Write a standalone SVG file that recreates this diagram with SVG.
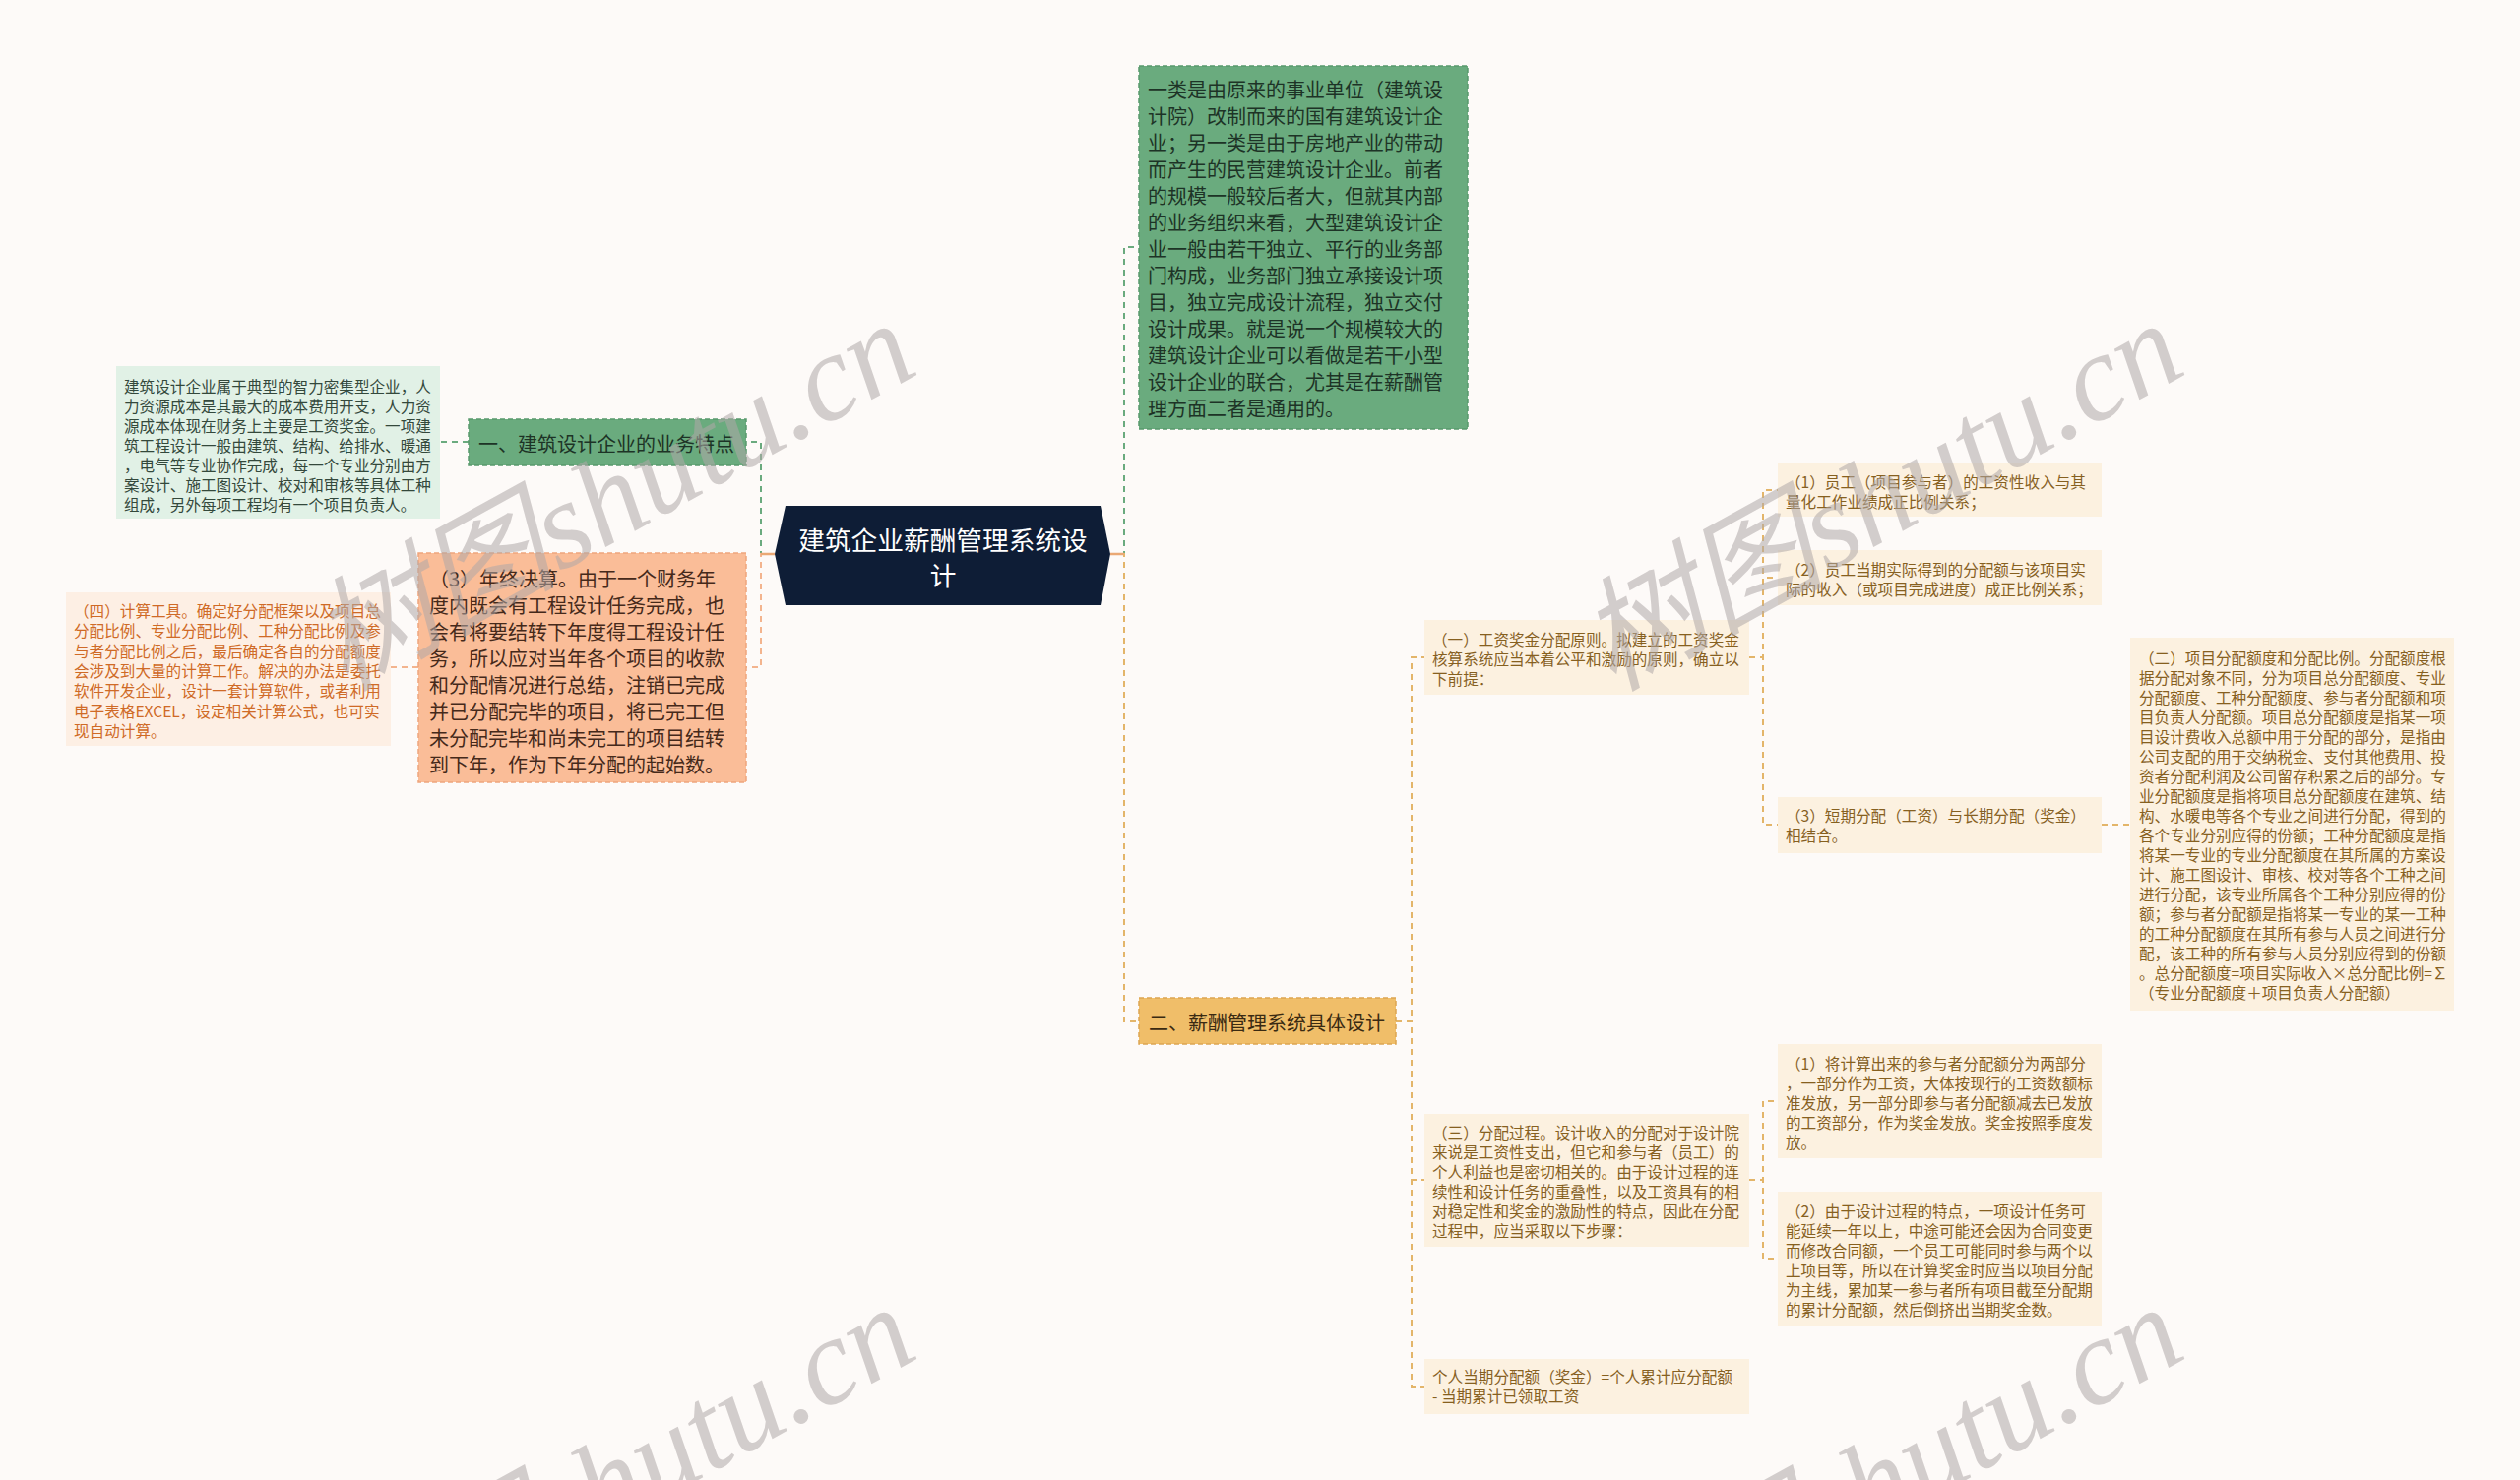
<svg xmlns="http://www.w3.org/2000/svg" width="2560" height="1504" viewBox="0 0 2560 1504">
<style>
text{font-family:"Noto Sans CJK SC","Noto Sans",sans-serif;dominant-baseline:central}
.s{font-size:15.6px}
.m{font-size:20px}
.lt{fill:#fcf1e0}
.tb{fill:#86601f}
.wm{font-family:"Liberation Serif","Noto Sans CJK SC",serif;font-style:italic;font-size:125px;fill:#aea8a8;fill-opacity:0.55;dominant-baseline:alphabetic}
.cg{fill:none;stroke:#6aaa7e;stroke-width:2;stroke-dasharray:6 5}
.cp{fill:none;stroke:#f3b48e;stroke-width:2;stroke-dasharray:6 5}
.co{fill:none;stroke:#e3b56a;stroke-width:2;stroke-dasharray:6 5}
</style>
<rect width="2560" height="1504" fill="#fdfaf8"/>
<g id="connectors">
<path class="cg" d="M787 563H773V449H758"/>
<path class="cg" d="M476 449H447"/>
<path class="cp" d="M787 563H773V678H758"/>
<path class="cp" d="M425 678H397"/>
<path class="cg" d="M1128 563H1142V251H1157"/>
<path class="co" d="M1128 563H1142V1038H1157"/>
<path class="co" d="M1418 1038H1434V668H1447"/>
<path class="co" d="M1418 1038H1434V1199H1447"/>
<path class="co" d="M1418 1038H1434V1409H1447"/>
<path class="co" d="M1777 668H1791V498H1806"/>
<path class="co" d="M1777 668H1791V587H1806"/>
<path class="co" d="M1777 668H1791V838H1806"/>
<path class="co" d="M2135 838H2164"/>
<path class="co" d="M1777 1199H1791V1119H1806"/>
<path class="co" d="M1777 1199H1791V1279H1806"/>
<path d="M773 563H787M1128 563H1142" stroke="#eaa874" stroke-width="2.5" fill="none"/>
</g>
<g id="center">
<polygon points="798,514 1118,514 1128,563 1118,615 798,615 787,563" fill="#0e1d36"/>
<text x="958" y="547" font-size="26.7" fill="#fff" text-anchor="middle">建筑企业薪酬管理系统设</text>
<text x="958" y="583" font-size="26.7" fill="#fff" text-anchor="middle">计</text>
</g>
<g id="n-yi">
<rect x="476" y="426" width="282" height="47" fill="#6aab7e" stroke="#58996c" stroke-width="1.5" stroke-dasharray="5 3"/>
<text class="m" x="486" y="450" fill="#1d3326">一、建筑设计企业的业务特点</text>
</g>
<g id="n-yi-detail">
<rect x="118" y="372" width="329" height="155" fill="#e1f1e6"/>
<g class="s" fill="#33483b">
<text x="126" y="392">建筑设计企业属于典型的智力密集型企业，人</text>
<text x="126" y="412">力资源成本是其最大的成本费用开支，人力资</text>
<text x="126" y="432">源成本体现在财务上主要是工资奖金。一项建</text>
<text x="126" y="452">筑工程设计一般由建筑、结构、给排水、暖通</text>
<text x="126" y="472">，电气等专业协作完成，每一个专业分别由方</text>
<text x="126" y="492">案设计、施工图设计、校对和审核等具体工种</text>
<text x="126" y="512">组成，另外每项工程均有一个项目负责人。</text>
</g>
</g>
<g id="n-nianzhong">
<rect x="425" y="562" width="333" height="233" fill="#fabd98" stroke="#eea57c" stroke-width="1.5" stroke-dasharray="5 3"/>
<g class="m" fill="#45291a">
<text x="436" y="587">（3）年终决算。由于一个财务年</text>
<text x="436" y="614">度内既会有工程设计任务完成，也</text>
<text x="436" y="641">会有将要结转下年度得工程设计任</text>
<text x="436" y="668">务，所以应对当年各个项目的收款</text>
<text x="436" y="695">和分配情况进行总结，注销已完成</text>
<text x="436" y="722">并已分配完毕的项目，将已完工但</text>
<text x="436" y="749">未分配完毕和尚未完工的项目结转</text>
<text x="436" y="776">到下年，作为下年分配的起始数。</text>
</g>
</g>
<g id="n-jisuan">
<rect x="67" y="602" width="330" height="156" fill="#fdefe4"/>
<g class="s" fill="#cf6a26">
<text x="75" y="620">（四）计算工具。确定好分配框架以及项目总</text>
<text x="75" y="640.3">分配比例、专业分配比例、工种分配比例及参</text>
<text x="75" y="660.6">与者分配比例之后，最后确定各自的分配额度</text>
<text x="75" y="681">会涉及到大量的计算工作。解决的办法是委托</text>
<text x="75" y="701.3">软件开发企业，设计一套计算软件，或者利用</text>
<text x="75" y="721.6">电子表格EXCEL，设定相关计算公式，也可实</text>
<text x="75" y="742">现自动计算。</text>
</g>
</g>
<g id="n-leixing">
<rect x="1157" y="67" width="334" height="369" fill="#6aab7e" stroke="#58996c" stroke-width="1.5" stroke-dasharray="5 3"/>
<g class="m" fill="#1d3326">
<text x="1166" y="90">一类是由原来的事业单位（建筑设</text>
<text x="1166" y="117">计院）改制而来的国有建筑设计企</text>
<text x="1166" y="144">业；另一类是由于房地产业的带动</text>
<text x="1166" y="171">而产生的民营建筑设计企业。前者</text>
<text x="1166" y="198">的规模一般较后者大，但就其内部</text>
<text x="1166" y="225">的业务组织来看，大型建筑设计企</text>
<text x="1166" y="252">业一般由若干独立、平行的业务部</text>
<text x="1166" y="279">门构成，业务部门独立承接设计项</text>
<text x="1166" y="306">目，独立完成设计流程，独立交付</text>
<text x="1166" y="333">设计成果。就是说一个规模较大的</text>
<text x="1166" y="360">建筑设计企业可以看做是若干小型</text>
<text x="1166" y="387">设计企业的联合，尤其是在薪酬管</text>
<text x="1166" y="414">理方面二者是通用的。</text>
</g>
</g>
<g id="n-er">
<rect x="1157" y="1014" width="261" height="47" fill="#f0be69" stroke="#dca552" stroke-width="1.5" stroke-dasharray="5 3"/>
<text class="m" x="1167" y="1038" fill="#3a2a12">二、薪酬管理系统具体设计</text>
</g>
<g id="n-yuanze">
<rect class="lt" x="1447" y="630" width="330" height="76"/>
<g class="s tb">
<text x="1455" y="649">（一）工资奖金分配原则。拟建立的工资奖金</text>
<text x="1455" y="669">核算系统应当本着公平和激励的原则，确立以</text>
<text x="1455" y="689">下前提：</text>
</g>
</g>
<g id="n-qianti1">
<rect class="lt" x="1806" y="470" width="329" height="55"/>
<g class="s tb">
<text x="1814" y="489">（1）员工（项目参与者）的工资性收入与其</text>
<text x="1814" y="509">量化工作业绩成正比例关系；</text>
</g>
</g>
<g id="n-qianti2">
<rect class="lt" x="1806" y="559" width="329" height="56"/>
<g class="s tb">
<text x="1814" y="578">（2）员工当期实际得到的分配额与该项目实</text>
<text x="1814" y="598">际的收入（或项目完成进度）成正比例关系；</text>
</g>
</g>
<g id="n-qianti3">
<rect class="lt" x="1806" y="810" width="329" height="57"/>
<g class="s tb">
<text x="1814" y="828">（3）短期分配（工资）与长期分配（奖金）</text>
<text x="1814" y="848">相结合。</text>
</g>
</g>
<g id="n-edu">
<rect class="lt" x="2164" y="648" width="329" height="379"/>
<g class="s tb">
<text x="2173" y="668">（二）项目分配额度和分配比例。分配额度根</text>
<text x="2173" y="688">据分配对象不同，分为项目总分配额度、专业</text>
<text x="2173" y="708">分配额度、工种分配额度、参与者分配额和项</text>
<text x="2173" y="728">目负责人分配额。项目总分配额度是指某一项</text>
<text x="2173" y="748">目设计费收入总额中用于分配的部分，是指由</text>
<text x="2173" y="768">公司支配的用于交纳税金、支付其他费用、投</text>
<text x="2173" y="788">资者分配利润及公司留存积累之后的部分。专</text>
<text x="2173" y="808">业分配额度是指将项目总分配额度在建筑、结</text>
<text x="2173" y="828">构、水暖电等各个专业之间进行分配，得到的</text>
<text x="2173" y="848">各个专业分别应得的份额；工种分配额度是指</text>
<text x="2173" y="868">将某一专业的专业分配额度在其所属的方案设</text>
<text x="2173" y="888">计、施工图设计、审核、校对等各个工种之间</text>
<text x="2173" y="908">进行分配，该专业所属各个工种分别应得的份</text>
<text x="2173" y="928">额；参与者分配额是指将某一专业的某一工种</text>
<text x="2173" y="948">的工种分配额度在其所有参与人员之间进行分</text>
<text x="2173" y="968">配，该工种的所有参与人员分别应得到的份额</text>
<text x="2173" y="988">。总分配额度=项目实际收入×总分配比例=∑</text>
<text x="2173" y="1008">（专业分配额度＋项目负责人分配额）</text>
</g>
</g>
<g id="n-guocheng">
<rect class="lt" x="1447" y="1132" width="330" height="135"/>
<g class="s tb">
<text x="1455" y="1150">（三）分配过程。设计收入的分配对于设计院</text>
<text x="1455" y="1170">来说是工资性支出，但它和参与者（员工）的</text>
<text x="1455" y="1190">个人利益也是密切相关的。由于设计过程的连</text>
<text x="1455" y="1210">续性和设计任务的重叠性，以及工资具有的相</text>
<text x="1455" y="1230">对稳定性和奖金的激励性的特点，因此在分配</text>
<text x="1455" y="1250">过程中，应当采取以下步骤：</text>
</g>
</g>
<g id="n-buzhou1">
<rect class="lt" x="1806" y="1061" width="329" height="116"/>
<g class="s tb">
<text x="1814" y="1080">（1）将计算出来的参与者分配额分为两部分</text>
<text x="1814" y="1100">，一部分作为工资，大体按现行的工资数额标</text>
<text x="1814" y="1120">准发放，另一部分即参与者分配额减去已发放</text>
<text x="1814" y="1140">的工资部分，作为奖金发放。奖金按照季度发</text>
<text x="1814" y="1160">放。</text>
</g>
</g>
<g id="n-buzhou2">
<rect class="lt" x="1806" y="1211" width="329" height="136"/>
<g class="s tb">
<text x="1814" y="1230">（2）由于设计过程的特点，一项设计任务可</text>
<text x="1814" y="1250">能延续一年以上，中途可能还会因为合同变更</text>
<text x="1814" y="1270">而修改合同额，一个员工可能同时参与两个以</text>
<text x="1814" y="1290">上项目等，所以在计算奖金时应当以项目分配</text>
<text x="1814" y="1310">为主线，累加某一参与者所有项目截至分配期</text>
<text x="1814" y="1330">的累计分配额，然后倒挤出当期奖金数。</text>
</g>
</g>
<g id="n-geren">
<rect class="lt" x="1447" y="1381" width="330" height="56"/>
<g class="s tb">
<text x="1455" y="1398">个人当期分配额（奖金）=个人累计应分配额</text>
<text x="1455" y="1418"> - 当期累计已领取工资</text>
</g>
</g>
<g id="watermark">
<text class="wm" transform="translate(350 703) rotate(-29)">树图shutu.cn</text>
<text class="wm" transform="translate(1638 703) rotate(-29)">树图shutu.cn</text>
<text class="wm" transform="translate(350 1703) rotate(-29)">树图shutu.cn</text>
<text class="wm" transform="translate(1638 1703) rotate(-29)">树图shutu.cn</text>
</g>
</svg>
